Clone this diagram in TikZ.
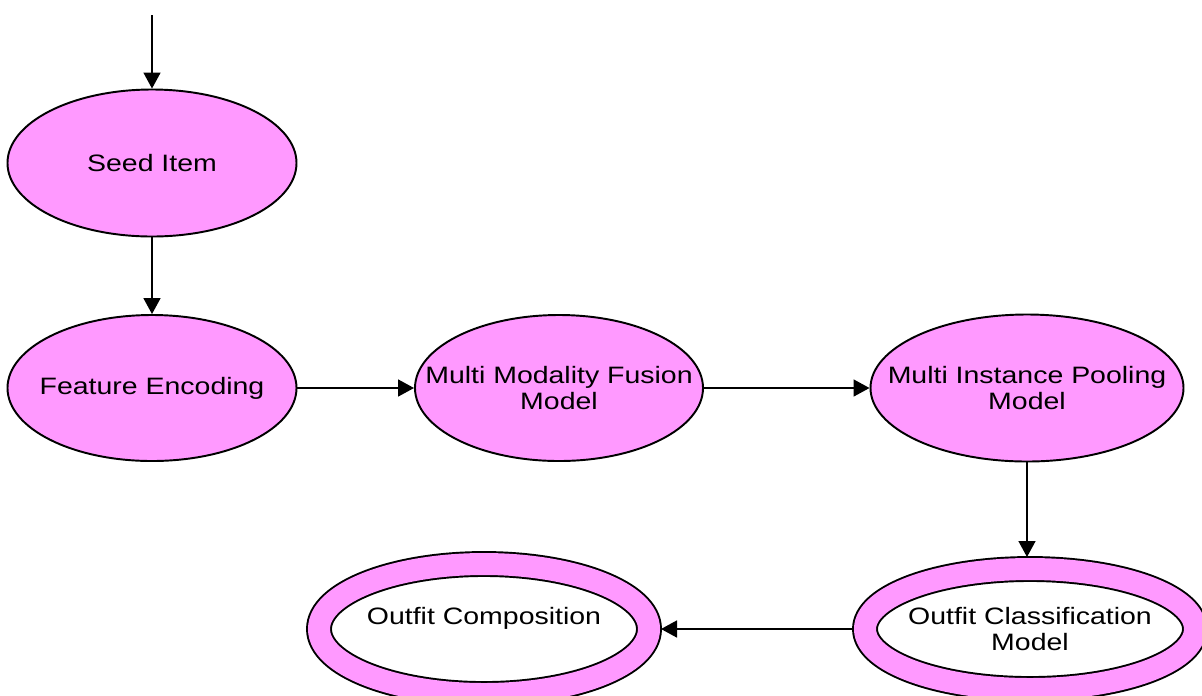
\documentclass[tikz,border=0pt]{standalone}
\usepackage{fontspec}
\setmainfont{Liberation Sans}[FakeStretch=1.2]
\usetikzlibrary{shapes,arrows.meta}
\definecolor{pinkfill}{RGB}{255,153,255}
\newcommand{\zw}[1]{\makebox[0pt]{#1}}

\begin{document}
\begin{tikzpicture}[
  blob/.style={ellipse,draw,line width=1.1pt,fill=pinkfill,inner sep=0pt,align=center,
    font=\fontsize{13.5}{14.8}\selectfont},
  ring/.style={blob,fill=white,double=pinkfill,double distance=0.44cm,outer sep=0.24cm},
  flow/.style={-{Triangle[length=0.32cm,width=0.34cm]},line width=0.9pt}]
\useasboundingbox (0,0) rectangle (24.04,-13.9);
\clip (0,0) rectangle (24.04,-13.9);
\node[blob,minimum width=5.78cm,minimum height=2.94cm] (seed) at (3.04,-3.26) {\zw{Seed Item}};
\node[blob,minimum width=5.78cm,minimum height=2.92cm] (enc) at (3.04,-7.76) {\zw{Feature Encoding}};
\node[blob,minimum width=5.76cm,minimum height=2.92cm] (fusion) at (11.18,-7.76) {\zw{Multi Modality Fusion}\\\zw{Model}};
\node[blob,minimum width=6.26cm,minimum height=2.94cm] (pool) at (20.54,-7.76) {\zw{Multi Instance Pooling}\\\zw{Model}};
\node[ring,minimum width=6.6cm,minimum height=2.4cm] (classify) at (20.6,-12.58) {\zw{Outfit Classification}\\\zw{Model}};
\node[ring,minimum width=6.6cm,minimum height=2.6cm] (compose) at (9.68,-12.58) {\zw{Outfit Composition}\\\mbox{}};
\coordinate (start) at (3.04,-0.3);
% flow of the pipeline
\draw[flow] (start) -- (seed);
\draw[flow] (seed) -- (enc);
\draw[flow] (enc) -- (fusion);
\draw[flow] (fusion) -- (pool);
\draw[flow] (pool) -- (pool.south |- classify.north);
\draw[flow] (classify) -- (compose);
\end{tikzpicture}
\end{document}
